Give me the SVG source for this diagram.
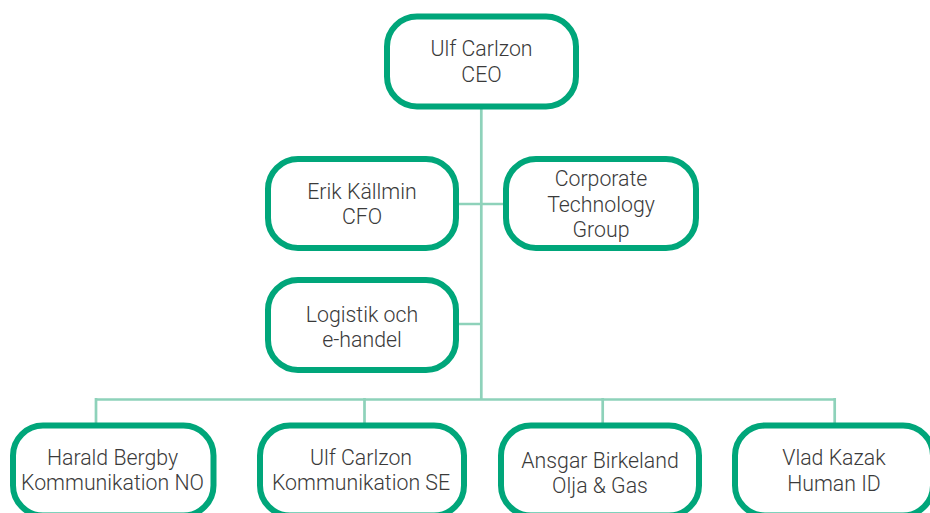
<svg xmlns="http://www.w3.org/2000/svg" width="930" height="513" viewBox="0 0 930 513">
<style>
.box{fill:#fff;stroke:#00A67A;stroke-width:6}
.t{font-family:Roboto,"Liberation Sans",sans-serif;font-weight:300;font-size:21.3px;fill:#3a3a3a;text-anchor:middle}
.c{fill:none;stroke:#8ED2BA;stroke-width:2.7}
</style>
<rect width="930" height="513" fill="#fff"/>
<g id="connectors">
<path class="c" d="M481.3 109V399.5M459 204H503M459 324H481.3M96 399.5H835M96 398V423M364.5 398V423M602.7 398V423M834.7 398V423"/>
</g>
<g id="ceo"><rect class="box" x="387" y="16.5" width="189" height="90" rx="30"/><text class="t" x="481.5" y="55.7">Ulf Carlzon</text><text class="t" x="481.5" y="81.7">CEO</text></g>
<g id="cfo"><rect class="box" x="268" y="159" width="188" height="89" rx="30"/><text class="t" x="362" y="199">Erik Källmin</text><text class="t" x="362" y="224">CFO</text></g>
<g id="ctg"><rect class="box" x="506" y="159" width="190" height="89" rx="30"/><text class="t" x="601" y="186">Corporate</text><text class="t" x="601" y="211.5">Technology</text><text class="t" x="601" y="237">Group</text></g>
<g id="logistik"><rect class="box" x="268" y="280" width="188" height="90" rx="30"/><text class="t" x="362" y="322">Logistik och</text><text class="t" x="362" y="347">e-handel</text></g>
<g id="harald"><rect class="box" x="13" y="425.5" width="200.5" height="90" rx="30"/><text class="t" x="112.5" y="465">Harald Bergby</text><text class="t" x="112.5" y="490">Kommunikation NO</text></g>
<g id="ulfse"><rect class="box" x="260" y="425.5" width="204" height="90" rx="30"/><text class="t" x="361" y="465">Ulf Carlzon</text><text class="t" x="361" y="490">Kommunikation SE</text></g>
<g id="ansgar"><rect class="box" x="501" y="425.5" width="198" height="90" rx="30"/><text class="t" x="600" y="468">Ansgar Birkeland</text><text class="t" x="600" y="493">Olja &amp; Gas</text></g>
<g id="vlad"><rect class="box" x="735" y="425.5" width="198" height="90" rx="30"/><text class="t" x="834" y="465">Vlad Kazak</text><text class="t" x="834" y="491">Human ID</text></g>
</svg>
